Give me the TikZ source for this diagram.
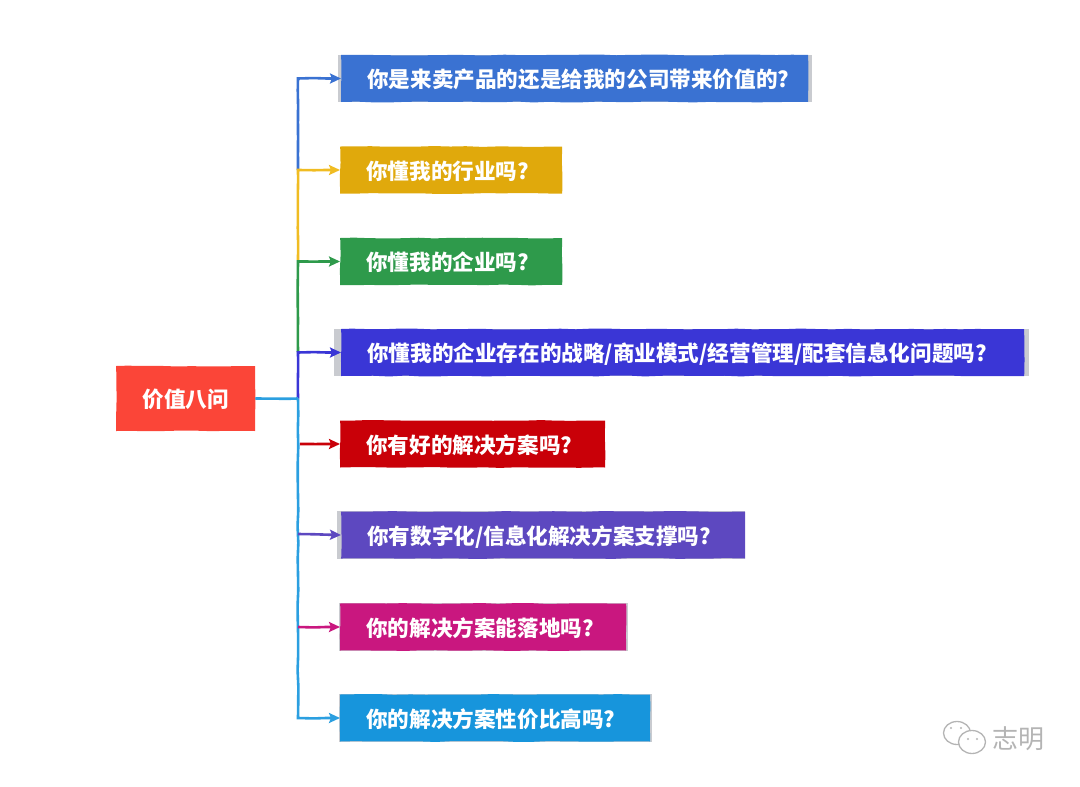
\documentclass[tikz,border=0pt]{standalone}
\usepackage{fontspec}
\newfontfamily\cjk{Noto Sans CJK SC}
\usepackage{xcolor}
\usetikzlibrary{arrows.meta,calc,backgrounds,decorations.pathmorphing,shapes.geometric}
\definecolor{qroot}{HTML}{FB4538}
\definecolor{qblue}{HTML}{3A72D2}
\definecolor{qyellow}{HTML}{E0A90C}
\definecolor{qgreen}{HTML}{2E9A4B}
\definecolor{qindigo}{HTML}{3A36D6}
\definecolor{qred}{HTML}{C90008}
\definecolor{qpurple}{HTML}{5D48C0}
\definecolor{qmagenta}{HTML}{C9177F}
\definecolor{qcyan}{HTML}{1795DC}
\definecolor{lyellow}{HTML}{F0BC22}
\definecolor{lcyan}{HTML}{2B9FE0}
\definecolor{qstub}{HTML}{C9CBD0}
\definecolor{qmark}{HTML}{B4B4B4}
\tikzset{
  >={Stealth[length=11pt,width=10pt,inset=2pt]},
  wobble/.style={decorate, decoration={random steps, segment length=16pt, amplitude=0.45pt}},
  qbase/.style={anchor=west, rectangle, text=white, font=\cjk\bfseries\fontsize{21.6}{26}\selectfont,
                text height=21pt, text depth=2.6pt, minimum height=47pt, inner ysep=0pt, wobble},
  qbox/.style={qbase, inner xsep=12pt, align=left, execute at begin node={\hspace*{14pt}}},
  qroot/.style={qbase, fill=qroot, minimum height=65pt, minimum width=139pt, inner xsep=20pt},
  qlink/.style={->, line width=2.6pt, decorate,
                decoration={random steps, segment length=16pt, amplitude=0.45pt, post=lineto, post length=14pt}},
  qstem/.style={line width=2.6pt, wobble},
  qicon/.style={draw=qmark, fill=white, line width=1.3pt},
}
\begin{document}
\begin{tikzpicture}[x=1pt,y=-1pt]
  \pgfmathsetseed{7}
  \useasboundingbox (0,0) rectangle (1080,787);

  % root and question boxes
  \node[qroot] (root) at (116,398.5) {价值八问};
  \node[qbox, fill=qblue, text width=443pt] (qa) at (341,78.5) {你是来卖产品的还是给我的公司带来价值的?};
  \node[qbox, fill=qyellow, text width=198pt] (qb) at (340,170) {你懂我的行业吗?};
  \node[qbox, fill=qgreen, text width=198pt] (qc) at (340,261.5) {你懂我的企业吗?};
  \node[qbox, fill=qindigo, text width=659pt] (qd) at (341,352.5) {你懂我的企业存在的战略/商业模式/经营管理/配套信息化问题吗?};
  \node[qbox, fill=qred, text width=241pt] (qe) at (340,444) {你有好的解决方案吗?};
  \node[qbox, fill=qpurple, text width=380pt] (qf) at (341,535) {你有数字化/信息化解决方案支撑吗?};
  \node[qbox, fill=qmagenta, text width=262pt] (qg) at (340,627) {你的解决方案能落地吗?};
  \node[qbox, fill=qcyan, text width=286pt] (qh) at (340,718) {你的解决方案性价比高吗?};

  % grey ends behind the boxes
  \begin{scope}[on background layer]
    \foreach \qn/\ql/\qr in {qa/3/4, qd/7/5, qf/4/0, qg/1/2, qh/1/2}
      \fill[qstub] ($(\qn.north west)+(-\ql,0)$) rectangle ($(\qn.south east)+(\qr,0)$);
  \end{scope}

  % junctions on the trunk
  \coordinate (jb) at (298,260);
  \coordinate (ja) at (298,170);
  \coordinate (jc) at (298,352);
  \coordinate (jd) at (298,398.5);
  \coordinate (je) at (300,444);
  \coordinate (jf) at (298,534);
  \coordinate (jg) at (298,627);

  % connectors
  \draw[qlink, lcyan] (jd) |- (qh.west);
  \draw[qlink, qblue] (ja) |- (qa.west);
  \draw[qlink, lyellow] (jb) |- (qb.west);
  \draw[qlink, qgreen] (jc) |- (qc.west);
  \draw[qlink, qindigo] (jd) |- (qd.west);
  \draw[qlink, qred] (je) -- (qe.west);
  \draw[qlink, qpurple] (jf) -- (qf.west);
  \draw[qlink, qmagenta] (jg) -- (qg.west);
  \draw[qstem, lcyan] (root.east) -- (jd);

  % watermark
  \node[ellipse, qicon, minimum width=27pt, minimum height=23pt, inner sep=0pt] (wa) at (957,733) {};
  \node[ellipse, qicon, minimum width=27pt, minimum height=23pt, inner sep=0pt] (wb) at (972,742) {};
  \foreach \wx/\wy in {951/728, 961/728, 968/739, 977/739}
    \fill[qmark] (\wx,\wy) circle (1.2);
  \node[text=qmark, font=\cjk\fontsize{26}{30}\selectfont, inner sep=0pt] (wt) at (1018,739) {志明};
\end{tikzpicture}
\end{document}
